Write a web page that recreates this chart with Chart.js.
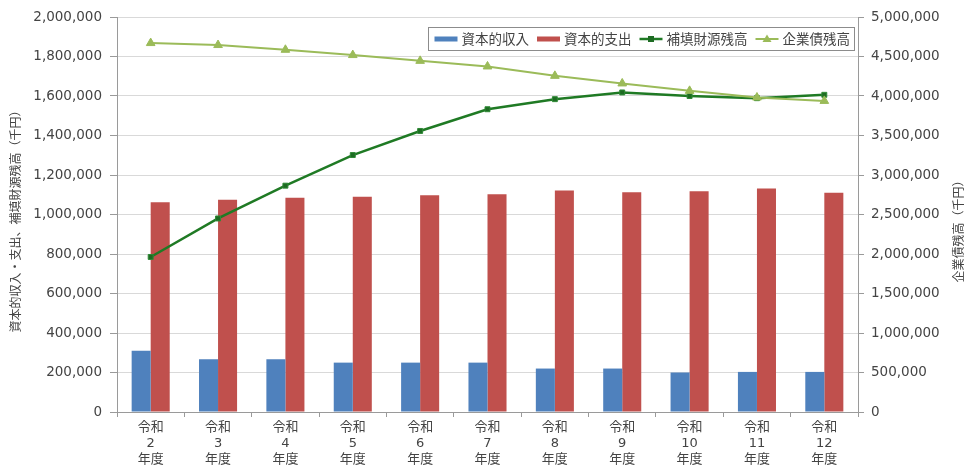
<!DOCTYPE html>
<html>
<head>
<meta charset="utf-8">
<script src="https://cdn.jsdelivr.net/npm/chart.js@4/dist/chart.umd.min.js"></script>
<style>
  html, body { margin: 0; padding: 0; background: #ffffff; }
  #wrap { width: 967px; height: 466px; position: relative; }
</style>
</head>
<body>
<div id="wrap"><canvas id="chart" width="967" height="466"></canvas></div>
<script>
// 年度（令和）
const fiscalYears = ['2', '3', '4', '5', '6', '7', '8', '9', '10', '11', '12'];
const categories = fiscalYears.map(y => ['令和', y, '年度']);

// 千円
const capitalIncome      = [310000, 267000, 267000, 250000, 250000, 250000, 220000, 220000, 200000, 203000, 203000];
const capitalExpenditure = [1062000, 1075000, 1085000, 1090000, 1098000, 1102000, 1122000, 1113000, 1118000, 1132000, 1110000];
const reserveBalance     = [785000, 980000, 1146000, 1301000, 1423000, 1533000, 1584000, 1618000, 1600000, 1589000, 1606000];
const bondBalance        = [4670000, 4645000, 4585000, 4518000, 4445000, 4374000, 4255000, 4159000, 4065000, 3981000, 3938000];

const seriesNames = ['資本的収入', '資本的支出', '補填財源残高', '企業債残高'];
const leftAxisTitle = '資本的収入・支出、補填財源残高（千円）';
const rightAxisTitle = '企業債残高（千円）';

const leftMax = 2000000, leftStep = 200000;
const rightMax = 5000000, rightStep = 500000;

const FONT = "'DejaVu Sans', 'Noto Sans CJK JP', sans-serif";
const CJK = "'Noto Sans CJK JP', sans-serif";
const TEXT = '#444444';
const AXIS = '#9a9a9a';
const GRID = '#d9d9d9';

const BLUE = '#4f81bd', RED = '#c0504d', GREEN = '#1f7a24', OLIVE = '#9bbb59';

const fmt = v => Number(v).toLocaleString('en-US');

// Axis titles, both reading bottom-to-top
const axisTitles = {
  id: 'axisTitles',
  afterDraw(chart) {
    const { ctx, chartArea } = chart;
    const midY = (chartArea.top + chartArea.bottom) / 2;
    ctx.save();
    ctx.fillStyle = TEXT;
    ctx.font = '12px ' + CJK;
    ctx.textAlign = 'center';
    ctx.textBaseline = 'middle';
    ctx.translate(15, midY + 4);
    ctx.rotate(-Math.PI / 2);
    ctx.fillText(leftAxisTitle, 0, 0);
    ctx.restore();

    ctx.save();
    ctx.fillStyle = TEXT;
    ctx.font = '12px ' + CJK;
    ctx.textAlign = 'center';
    ctx.textBaseline = 'middle';
    ctx.translate(chart.width - 9, midY + 14);
    ctx.rotate(-Math.PI / 2);
    ctx.fillText(rightAxisTitle, 0, 0);
    ctx.restore();
  }
};

// Boxed legend inside the top right of the plot area
const insideLegend = {
  id: 'insideLegend',
  afterDraw(chart) {
    const { ctx, chartArea } = chart;
    const ds = chart.data.datasets;
    ctx.save();
    ctx.font = '13.5px ' + CJK;
    const sw = 23, gapSw = 4, gapItem = 8, padL = 7, padR = 4;
    let total = padL + padR;
    ds.forEach((d, i) => {
      total += sw + gapSw + ctx.measureText(d.label).width;
      if (i < ds.length - 1) total += gapItem;
    });
    const h = 23;
    const right = chartArea.right - 4;
    const left = right - total;
    const top = chartArea.top + 10;
    ctx.fillStyle = '#ffffff';
    ctx.fillRect(left, top, total, h);
    ctx.strokeStyle = '#8c8c8c';
    ctx.lineWidth = 1;
    ctx.strokeRect(Math.round(left) + 0.5, Math.round(top) + 0.5, Math.round(total), h);
    const cy = top + h / 2 + 0.5;
    let x = left + padL;
    ds.forEach((d, i) => {
      if (d.type === 'bar') {
        ctx.fillStyle = d.backgroundColor;
        ctx.fillRect(x, cy - 2.5, sw, 5);
      } else {
        ctx.strokeStyle = d.borderColor;
        ctx.lineWidth = d.borderWidth;
        ctx.beginPath();
        ctx.moveTo(x, cy);
        ctx.lineTo(x + sw, cy);
        ctx.stroke();
        ctx.fillStyle = d.pointBackgroundColor;
        const mx = x + sw / 2;
        if (d.pointStyle === 'rect') {
          ctx.fillRect(mx - 3, cy - 3, 6, 6);
        } else {
          ctx.beginPath();
          ctx.moveTo(mx, cy - 4.5);
          ctx.lineTo(mx + 4.5, cy + 3);
          ctx.lineTo(mx - 4.5, cy + 3);
          ctx.closePath();
          ctx.fill();
        }
      }
      x += sw + gapSw;
      ctx.fillStyle = TEXT;
      ctx.textAlign = 'left';
      ctx.textBaseline = 'middle';
      ctx.fillText(d.label, x, cy);
      x += ctx.measureText(d.label).width + gapItem;
    });
    ctx.restore();
  }
};

new Chart(document.getElementById('chart'), {
  data: {
    labels: categories,
    datasets: [
      {
        type: 'bar', label: seriesNames[0], data: capitalIncome, yAxisID: 'y',
        backgroundColor: BLUE, order: 3,
        categoryPercentage: 0.565, barPercentage: 1.0
      },
      {
        type: 'bar', label: seriesNames[1], data: capitalExpenditure, yAxisID: 'y',
        backgroundColor: RED, order: 3,
        categoryPercentage: 0.565, barPercentage: 1.0
      },
      {
        type: 'line', label: seriesNames[2], data: reserveBalance, yAxisID: 'y',
        borderColor: GREEN, borderWidth: 2.5, tension: 0,
        pointStyle: 'rect', pointRadius: 3.5, pointBackgroundColor: '#1d6b22',
        pointBorderColor: '#2f8a36', pointBorderWidth: 1, order: 2
      },
      {
        type: 'line', label: seriesNames[3], data: bondBalance, yAxisID: 'y2',
        borderColor: OLIVE, borderWidth: 2, tension: 0,
        pointStyle: 'triangle', pointRadius: 5, pointBackgroundColor: OLIVE,
        pointBorderColor: OLIVE, pointBorderWidth: 1, order: 1
      }
    ]
  },
  options: {
    responsive: false,
    animation: false,
    devicePixelRatio: 1,
    layout: { padding: { top: 17, left: 0, right: 0, bottom: 0 } },
    plugins: { legend: { display: false }, tooltip: { enabled: false } },
    scales: {
      x: {
        offset: true,
        grid: { offset: true, drawOnChartArea: false, tickLength: 5, color: AXIS },
        border: { color: AXIS },
        ticks: { color: TEXT, font: { family: FONT, size: 13, lineHeight: 1.22 }, padding: 3, maxRotation: 0, autoSkip: false },
        afterFit(s) { s.height = 54; }
      },
      y: {
        position: 'left', min: 0, max: leftMax,
        grid: { color: GRID, tickLength: 7, tickColor: AXIS },
        border: { color: AXIS },
        ticks: { stepSize: leftStep, color: TEXT, font: { family: FONT, size: 13.5 }, padding: 8, callback: v => fmt(v) },
        afterFit(s) { s.width = 117; }
      },
      y2: {
        position: 'right', min: 0, max: rightMax,
        grid: { drawOnChartArea: false, tickLength: 6, tickColor: AXIS },
        border: { color: AXIS },
        ticks: { stepSize: rightStep, color: TEXT, font: { family: FONT, size: 13.5 }, padding: 7, callback: v => fmt(v) },
        afterFit(s) { s.width = 109; }
      }
    }
  },
  plugins: [axisTitles, insideLegend]
});
</script>
</body>
</html>
